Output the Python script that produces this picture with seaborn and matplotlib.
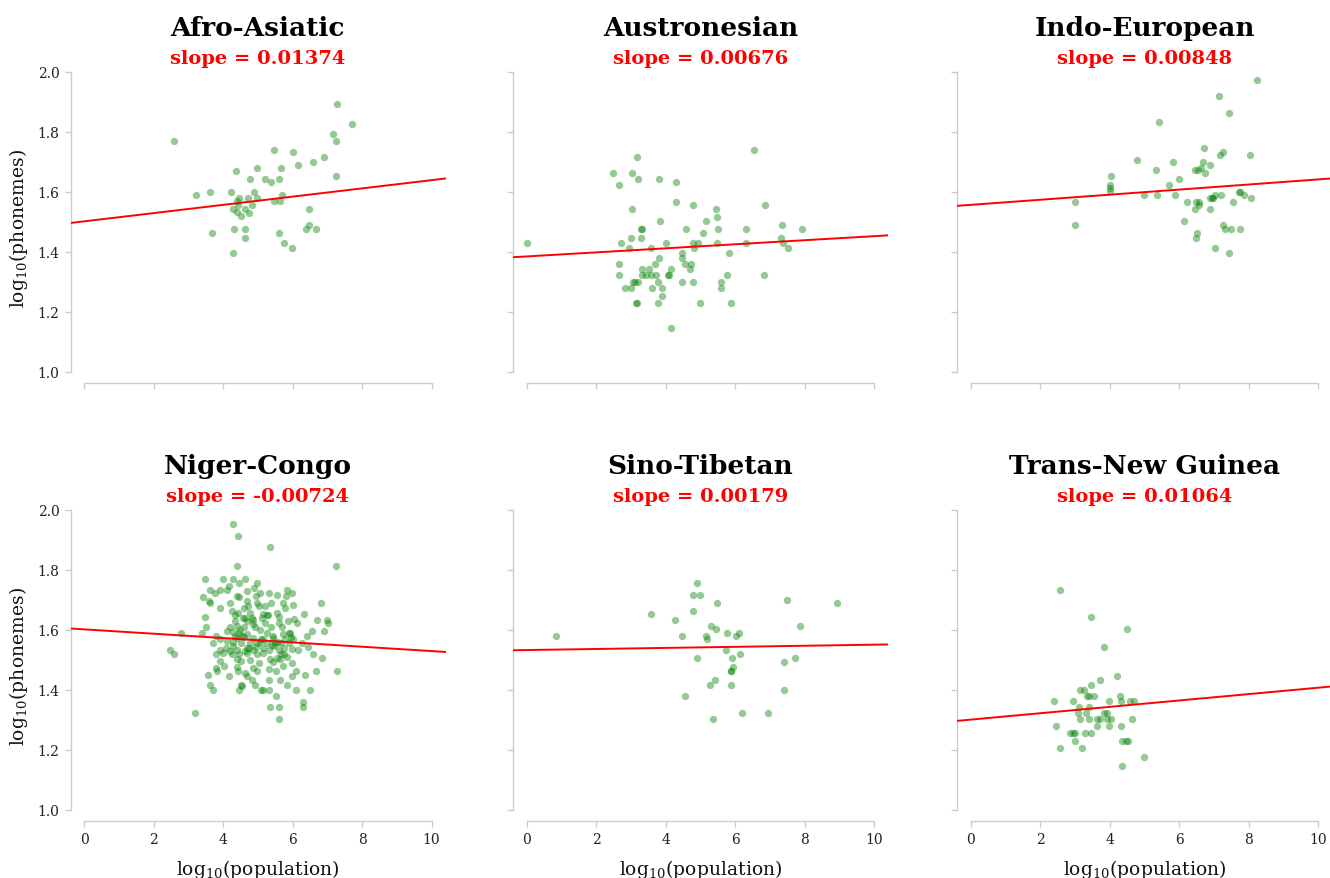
import numpy as np
import pandas as pd
import matplotlib
matplotlib.use("Agg")
import matplotlib.pyplot as plt
import seaborn as sns

# ---------------- data ----------------
families = ["Afro-Asiatic", "Austronesian", "Indo-European",
            "Niger-Congo", "Sino-Tibetan", "Trans-New Guinea"]
slopes = [0.01374, 0.00676, 0.00848, -0.00724, 0.00179, 0.01064]
intercepts = [1.502, 1.385, 1.557, 1.602, 1.533, 1.301]

afro_x = [2.59, 7.27, 7.72, 7.16, 7.24, 7.26, 6.91, 6.59, 6.02, 6.17, 5.47, 5.66, 5.60, 5.39,
          5.20, 4.99, 4.77, 4.38, 3.21, 3.62, 4.22, 4.90, 5.70, 4.40, 4.47, 4.72, 4.99, 5.47,
          5.64, 4.83, 4.30, 4.44, 4.63, 4.41, 4.74, 4.53, 6.46, 3.69, 4.32, 4.64, 4.64, 4.30,
          5.60, 5.76, 5.98, 6.39, 6.48, 6.68]
afro_y = [1.770, 1.892, 1.826, 1.792, 1.770, 1.653, 1.716, 1.699, 1.732, 1.690, 1.740, 1.681,
          1.643, 1.633, 1.643, 1.681, 1.643, 1.671, 1.591, 1.601, 1.601, 1.601, 1.591, 1.569,
          1.579, 1.579, 1.579, 1.569, 1.569, 1.556, 1.544, 1.556, 1.544, 1.533, 1.531, 1.519,
          1.544, 1.462, 1.477, 1.477, 1.447, 1.398, 1.462, 1.431, 1.414, 1.477, 1.491, 1.477]

austro_x = [0.00, 6.54, 3.19, 2.48, 3.03, 2.66, 3.22, 3.82, 4.30, 4.30, 4.79, 6.87, 3.04, 5.45,
            5.47, 3.84, 5.16, 3.30, 3.32, 4.60, 5.52, 6.31, 7.35, 7.93, 5.08, 3.00, 3.30, 7.32,
            2.73, 4.02, 4.78, 4.92, 5.48, 6.30, 7.39, 2.96, 3.59, 4.83, 7.52, 5.82, 4.46, 4.47,
            3.80, 2.66, 3.69, 4.55, 4.74, 3.32, 3.53, 4.17, 4.69, 2.66, 3.32, 3.45, 3.59, 3.73,
            4.06, 4.11, 5.78, 6.83, 3.07, 3.11, 3.20, 3.78, 4.46, 4.78, 5.60, 2.84, 3.00, 3.60,
            3.91, 5.60, 3.90, 3.14, 3.18, 3.78, 4.98, 5.89, 4.17]
austro_y = [1.431, 1.740, 1.716, 1.662, 1.662, 1.623, 1.643, 1.643, 1.633, 1.568, 1.556, 1.556,
            1.543, 1.543, 1.518, 1.504, 1.504, 1.477, 1.477, 1.477, 1.477, 1.477, 1.491, 1.477,
            1.462, 1.447, 1.447, 1.447, 1.431, 1.431, 1.431, 1.431, 1.431, 1.431, 1.431, 1.414,
            1.414, 1.414, 1.414, 1.398, 1.398, 1.380, 1.380, 1.361, 1.361, 1.361, 1.361, 1.342,
            1.342, 1.342, 1.342, 1.322, 1.322, 1.322, 1.322, 1.322, 1.322, 1.322, 1.322, 1.322,
            1.301, 1.301, 1.301, 1.301, 1.301, 1.301, 1.301, 1.279, 1.279, 1.279, 1.279, 1.279,
            1.254, 1.231, 1.231, 1.231, 1.231, 1.231, 1.146]

indo_x = [8.25, 7.14, 7.43, 5.41, 6.73, 7.26, 7.18, 8.03, 4.78, 5.83, 6.69, 6.90, 6.63, 5.33,
          6.46, 6.55, 6.75, 4.04, 6.00, 5.70, 4.00, 4.00, 4.00, 5.00, 5.36, 5.89, 7.22, 7.04,
          6.99, 6.89, 6.95, 7.72, 7.75, 7.87, 8.06, 3.00, 6.23, 6.49, 6.58, 7.56, 6.58, 6.46,
          6.89, 6.13, 7.27, 7.33, 7.49, 7.74, 3.00, 6.51, 6.49, 7.02, 7.45]
indo_y = [1.972, 1.919, 1.863, 1.832, 1.748, 1.732, 1.724, 1.724, 1.708, 1.699, 1.699, 1.690,
          1.681, 1.672, 1.672, 1.672, 1.662, 1.653, 1.643, 1.623, 1.623, 1.612, 1.602, 1.591,
          1.591, 1.591, 1.591, 1.591, 1.579, 1.579, 1.579, 1.601, 1.601, 1.591, 1.579, 1.568,
          1.568, 1.568, 1.568, 1.568, 1.556, 1.543, 1.543, 1.504, 1.491, 1.477, 1.477, 1.477,
          1.491, 1.462, 1.447, 1.414, 1.398]

niger_x = [4.30, 4.43, 5.36, 4.40, 7.26, 3.47, 4.01, 4.30, 4.64, 4.45, 4.97, 4.16, 4.89, 3.63,
           3.92, 4.11, 4.68, 3.77, 5.07, 5.31, 5.84, 5.98, 3.41, 4.41, 4.45, 4.96, 5.55, 5.81,
           3.59, 4.20, 4.68, 4.97, 5.39, 5.72, 6.81, 6.01, 3.61, 3.92, 4.59, 5.02, 5.21, 5.79,
           4.25, 4.44, 4.78, 5.16, 5.29, 5.55, 6.34, 3.47, 4.35, 4.57, 4.82, 5.11, 5.62, 4.35,
           4.68, 4.87, 5.21, 5.62, 5.88, 6.70, 7.00, 7.03, 6.12, 6.04, 3.50, 4.20, 4.41, 4.59,
           4.91, 5.07, 5.37, 5.69, 6.57, 6.91, 4.11, 4.30, 4.47, 4.68, 5.26, 5.72, 5.91, 3.39,
           2.78, 5.95, 6.41, 3.80, 4.35, 4.41, 4.59, 4.87, 5.14, 5.43, 5.79, 6.01, 3.92, 3.71,
           4.11, 4.30, 4.51, 4.78, 4.97, 5.26, 5.48, 5.67, 5.89, 6.27, 6.43, 4.09, 4.30, 4.68,
           4.95, 5.16, 5.47, 5.76, 5.98, 2.48, 3.92, 4.20, 4.41, 4.64, 4.87, 5.31, 5.60, 6.17,
           2.59, 3.80, 4.01, 4.25, 4.47, 4.70, 4.97, 5.16, 5.76, 6.60, 5.84, 5.55, 4.39, 3.92,
           4.53, 4.78, 5.34, 5.64, 6.84, 5.99, 5.02, 5.45, 4.03, 3.80, 4.40, 4.87, 5.72, 3.82,
           4.44, 4.64, 4.97, 5.31, 5.51, 6.10, 6.66, 7.27, 3.58, 4.16, 4.68, 6.35, 5.99, 5.32,
           5.64, 4.83, 3.63, 4.51, 4.54, 4.92, 5.84, 3.70, 4.47, 5.09, 5.16, 5.32, 6.10, 6.51,
           5.51, 6.31, 5.34, 5.62, 6.29, 5.60, 3.18,
           4.55, 4.62, 4.85, 5.05, 5.25, 5.45, 5.58, 5.93, 4.75, 5.10, 5.40, 5.66, 4.50, 4.72]
niger_y = [1.954, 1.914, 1.876, 1.813, 1.813, 1.771, 1.771, 1.771, 1.771, 1.756, 1.756, 1.747,
           1.740, 1.733, 1.733, 1.733, 1.730, 1.724, 1.724, 1.724, 1.733, 1.724, 1.709, 1.713,
           1.709, 1.713, 1.717, 1.713, 1.697, 1.691, 1.697, 1.691, 1.691, 1.691, 1.691, 1.683,
           1.691, 1.672, 1.674, 1.680, 1.680, 1.672, 1.663, 1.658, 1.658, 1.652, 1.650, 1.656,
           1.654, 1.644, 1.649, 1.641, 1.641, 1.641, 1.644, 1.630, 1.630, 1.633, 1.624, 1.624,
           1.630, 1.633, 1.633, 1.624, 1.624, 1.636, 1.609, 1.609, 1.614, 1.609, 1.611, 1.600,
           1.609, 1.609, 1.598, 1.598, 1.598, 1.593, 1.591, 1.586, 1.591, 1.586, 1.591, 1.591,
           1.591, 1.578, 1.580, 1.580, 1.580, 1.574, 1.578, 1.574, 1.569, 1.574, 1.569, 1.569,
           1.569, 1.558, 1.563, 1.560, 1.558, 1.558, 1.556, 1.558, 1.556, 1.556, 1.558, 1.556,
           1.544, 1.541, 1.547, 1.541, 1.544, 1.541, 1.547, 1.541, 1.536, 1.533, 1.533, 1.530,
           1.533, 1.530, 1.533, 1.533, 1.533, 1.533, 1.519, 1.519, 1.522, 1.519, 1.519, 1.522,
           1.519, 1.524, 1.519, 1.519, 1.511, 1.508, 1.504, 1.497, 1.497, 1.500, 1.502, 1.502,
           1.506, 1.491, 1.491, 1.493, 1.480, 1.474, 1.478, 1.474, 1.480, 1.463, 1.463, 1.458,
           1.463, 1.469, 1.462, 1.463, 1.463, 1.463, 1.449, 1.447, 1.447, 1.449, 1.447, 1.433,
           1.433, 1.433, 1.416, 1.416, 1.413, 1.416, 1.416, 1.400, 1.400, 1.400, 1.400, 1.400,
           1.400, 1.400, 1.380, 1.361, 1.343, 1.343, 1.343, 1.302, 1.322,
           1.580, 1.640, 1.620, 1.560, 1.650, 1.580, 1.560, 1.590, 1.540, 1.570, 1.550, 1.520,
           1.600, 1.680]

sino_x = [0.84, 4.91, 4.78, 4.99, 5.48, 7.50, 8.92, 3.57, 4.80, 4.27, 5.31, 7.88, 5.44, 5.78,
          6.10, 4.47, 5.16, 6.03, 5.18, 5.74, 6.13, 4.89, 5.91, 7.72, 7.41, 5.95, 5.89, 5.87,
          5.41, 5.28, 5.88, 7.41, 4.57, 6.19, 6.95, 5.36]
sino_y = [1.580, 1.756, 1.717, 1.717, 1.691, 1.699, 1.691, 1.653, 1.663, 1.633, 1.613, 1.613,
          1.602, 1.591, 1.591, 1.580, 1.580, 1.580, 1.569, 1.532, 1.519, 1.506, 1.506, 1.506,
          1.492, 1.478, 1.463, 1.463, 1.432, 1.416, 1.416, 1.399, 1.381, 1.323, 1.323, 1.302]

tng_x = [2.57, 3.47, 4.50, 3.85, 4.21, 3.72, 3.47, 3.15, 3.26, 3.34, 3.40, 3.56, 4.30, 2.39,
         2.96, 3.99, 4.32, 4.59, 4.71, 3.11, 3.40, 3.08, 3.32, 3.85, 3.92, 3.14, 3.41, 3.64,
         3.72, 3.92, 4.04, 4.65, 2.46, 3.64, 3.98, 4.34, 2.86, 2.94, 3.00, 3.29, 3.47, 3.00,
         4.37, 4.48, 4.53, 2.56, 3.22, 5.00, 4.37]
tng_y = [1.732, 1.643, 1.602, 1.544, 1.448, 1.432, 1.416, 1.399, 1.399, 1.381, 1.381, 1.381,
         1.381, 1.362, 1.362, 1.362, 1.362, 1.362, 1.362, 1.344, 1.344, 1.323, 1.323, 1.323,
         1.323, 1.302, 1.302, 1.302, 1.302, 1.302, 1.302, 1.302, 1.280, 1.280, 1.280, 1.280,
         1.257, 1.257, 1.257, 1.257, 1.257, 1.231, 1.231, 1.231, 1.231, 1.206, 1.206, 1.177,
         1.147]

xs = [afro_x, austro_x, indo_x, niger_x, sino_x, tng_x]
ys = [afro_y, austro_y, indo_y, niger_y, sino_y, tng_y]

x_ticks = [0, 2, 4, 6, 8, 10]
y_ticks = [1.0, 1.2, 1.4, 1.6, 1.8, 2.0]

# ---------------- style ----------------
sns.set_theme(style="ticks")
plt.rcParams["font.family"] = ["DejaVu Serif"]
plt.rcParams["mathtext.fontset"] = "dejavuserif"

W, H = 1330, 879
fig = plt.figure(figsize=(W / 100, H / 100), dpi=100)

col_left = [70.5, 513, 957]
ax_w = 375
row_top = [73, 511]
ax_h = 311

grey = "#cccccc"
for i, fam in enumerate(families):
    r, c = divmod(i, 3)
    ax = fig.add_axes([col_left[c] / W, 1 - (row_top[r] + ax_h) / H, ax_w / W, ax_h / H])
    df = pd.DataFrame({"x": xs[i], "y": ys[i]})
    sns.scatterplot(data=df, x="x", y="y", ax=ax, color="green", alpha=0.42,
                    s=28, linewidth=0, zorder=2)
    ax.axline((0, intercepts[i]), slope=slopes[i], color="red", lw=1.4, zorder=3)
    ax.set_xlim(-0.39, 10.4)
    ax.set_ylim(0.963, 2.0)
    ax.set_xticks(x_ticks)
    ax.set_yticks(y_ticks)
    for side in ["top", "right"]:
        ax.spines[side].set_visible(False)
    for side in ["left", "bottom"]:
        ax.spines[side].set_color(grey)
        ax.spines[side].set_linewidth(1.0)
    ax.spines["left"].set_bounds(1.0, 2.0)
    ax.spines["bottom"].set_bounds(0, 10)
    ax.tick_params(axis="both", colors=grey, labelcolor="#222222", length=4, width=1,
                   labelsize=10, pad=4)
    ax.set_xticklabels([str(t) for t in x_ticks])
    ax.set_yticklabels([f"{t:.1f}" for t in y_ticks])
    if r == 0:
        ax.tick_params(axis="x", labelbottom=False)
        ax.set_xlabel("")
    else:
        ax.set_xlabel(r"log$_{10}$(population)", fontsize=13.5, color="#111111", labelpad=8)
    if c != 0:
        ax.tick_params(axis="y", labelleft=False)
        ax.set_ylabel("")
    else:
        ax.set_ylabel(r"log$_{10}$(phonemes)", fontsize=13.5, color="#111111", labelpad=5)
    ax.text(0.5, 1 + 9 / ax_h, f"slope = {slopes[i]:.5f}", transform=ax.transAxes,
            ha="center", va="baseline", color="red", fontsize=14, fontweight="bold")
    ax.text(0.5, 1 + 37 / ax_h, fam, transform=ax.transAxes,
            ha="center", va="baseline", color="black", fontsize=19, fontweight="bold")

fig.savefig("out.png", dpi=100)
